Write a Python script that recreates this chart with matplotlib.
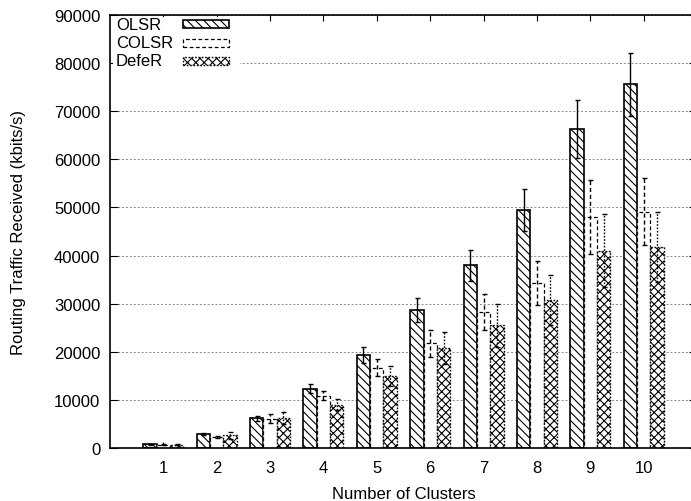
import matplotlib
matplotlib.use("Agg")
import matplotlib.pyplot as plt
from matplotlib.patches import Rectangle
import numpy as np

plt.rcParams['font.family'] = ['Liberation Sans', 'DejaVu Sans']
plt.rcParams['hatch.linewidth'] = 0.8

clusters = [1, 2, 3, 4, 5, 6, 7, 8, 9, 10]
series_names = ["OLSR", "COLSR", "DefeR"]
olsr = [750, 2850, 6200, 12300, 19300, 28600, 38000, 49500, 66300, 75600]
olsr_err = [100, 200, 500, 900, 1600, 2500, 3200, 4300, 6100, 6500]
colsr = [700, 2350, 6100, 10900, 16700, 21800, 28300, 34300, 48000, 49100]
colsr_err = [100, 200, 900, 1000, 1800, 2800, 3800, 4500, 7700, 7000]
defer = [700, 2650, 6200, 9000, 15000, 20800, 25500, 30800, 41000, 41700]
defer_err = [100, 700, 1200, 1200, 2100, 3400, 4500, 5200, 7600, 7300]

values = [olsr, colsr, defer]
errors = [olsr_err, colsr_err, defer_err]
styles = [
    dict(hatch='\\' * 4, ls='-', lw=1.2),
    dict(hatch='', ls=(0, (3, 2)), lw=0.9),
    dict(hatch='xxxx', ls=(0, (1.2, 1.2)), lw=1.0),
]
err_ls = ['-', (0, (3, 2)), (0, (1.2, 1.2))]

fig = plt.figure(figsize=(6.91, 5.02), dpi=100)
W, H = 691, 502
ax_left, ax_top, ax_w, ax_h = 110, 16, 587, 433
ax = fig.add_axes([ax_left / W, 1 - (ax_top + ax_h) / H, ax_w / W, ax_h / H])

x = np.array(clusters, dtype=float)
bw = 0.25
for i, (vals, errs, st) in enumerate(zip(values, errors, styles)):
    pos = x + (i - 1) * bw
    ax.bar(pos, vals, width=bw, facecolor='white', edgecolor='black',
           hatch=st['hatch'], linestyle=st['ls'], linewidth=st['lw'], zorder=2)
    eb = ax.errorbar(pos, vals, yerr=errs, fmt='none', ecolor='black',
                     elinewidth=1.0, capsize=1.8, capthick=1.0, zorder=3)
    for lc in eb[2]:
        lc.set_linestyle(err_ls[i])

ax.set_xlim(0, 11)
ax.set_ylim(0, 90000)
ax.set_xticks(clusters)
ax.set_yticks(np.arange(0, 90001, 10000))
ax.tick_params(axis='both', direction='in', labelsize=12, top=True, right=True)
ax.tick_params(axis='y', length=6, pad=7)
ax.tick_params(axis='x', length=4, pad=9)
ax.yaxis.grid(True, linestyle=(0, (2, 2)), color='#888888', linewidth=0.7)
ax.set_axisbelow(True)
for sp in ax.spines.values():
    sp.set_linewidth(1.2)

ax.set_xlabel("Number of Clusters", fontsize=12, labelpad=7.5)
ax.set_ylabel("Routing Traffic Received (kbits/s)", fontsize=12, labelpad=20)

# legend drawn gnuplot-style: text left, swatch right
def px2ax(px, py):
    return (px - ax_left) / ax_w, 1 - (py - ax_top) / ax_h

bx0, by0 = px2ax(113, 70)
bx1, by1 = px2ax(240, 18)
ax.add_patch(Rectangle((bx0, by0), bx1 - bx0, by1 - by0, transform=ax.transAxes,
                       facecolor='white', edgecolor='none', zorder=4))
rows_py = [25, 43.5, 62]
for name, st, py in zip(series_names, styles, rows_py):
    tx, ty = px2ax(116, py)
    ax.text(tx, ty, name, transform=ax.transAxes, fontsize=12,
            va='center', ha='left', zorder=5)
    sx0, sy0 = px2ax(183, py + 4)
    sx1, sy1 = px2ax(229, py - 4)
    ax.add_patch(Rectangle((sx0, sy0), sx1 - sx0, sy1 - sy0, transform=ax.transAxes,
                           facecolor='white', edgecolor='black', hatch=st['hatch'],
                           linestyle=st['ls'], linewidth=st['lw'], zorder=5))

fig.savefig("out.png", dpi=100)
